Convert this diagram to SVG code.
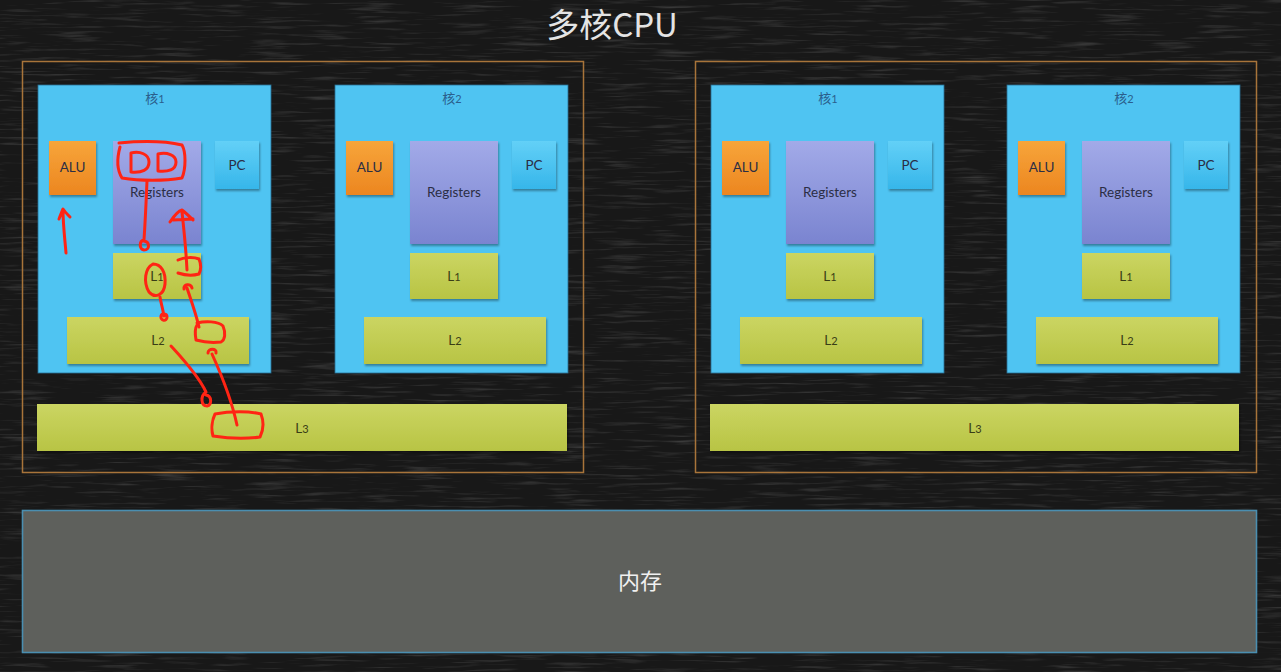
<svg xmlns="http://www.w3.org/2000/svg" width="1281" height="672" viewBox="0 0 1281 672">
<defs>
<filter id="chalk" x="0" y="0" width="100%" height="100%">
<feTurbulence type="fractalNoise" baseFrequency="0.02 0.35" numOctaves="3" seed="4" result="n"/>
<feColorMatrix in="n" type="matrix" values="0 0 0 0 0.5  0 0 0 0 0.5  0 0 0 0 0.5  0 0 0 1.3 -0.68"/>
</filter>
<filter id="sh" x="-10%" y="-10%" width="130%" height="130%">
<feDropShadow dx="1" dy="2" stdDeviation="1.2" flood-color="#000" flood-opacity="0.35"/>
</filter>
<linearGradient id="gAlu" x1="0" y1="0" x2="0" y2="1"><stop offset="0" stop-color="#f7a53a"/><stop offset="1" stop-color="#ec8620"/></linearGradient>
<linearGradient id="gReg" x1="0" y1="0" x2="0" y2="1"><stop offset="0" stop-color="#a2aae8"/><stop offset="1" stop-color="#7a84d0"/></linearGradient>
<linearGradient id="gPc" x1="0" y1="0" x2="0" y2="1"><stop offset="0" stop-color="#63d0f7"/><stop offset="1" stop-color="#36b6ea"/></linearGradient>
<linearGradient id="gL" x1="0" y1="0" x2="0" y2="1"><stop offset="0" stop-color="#cbd562"/><stop offset="1" stop-color="#b8c444"/></linearGradient>
<style>
.cpu{fill:none;stroke:#a8743a;stroke-width:1.5}
.core{fill:#4fc4f2;stroke:#2a6f93;stroke-width:0.8}
.alu{fill:url(#gAlu);filter:url(#sh)}
.reg{fill:url(#gReg);filter:url(#sh)}
.pc{fill:url(#gPc);filter:url(#sh)}
.l{fill:url(#gL);filter:url(#sh)}
.t{font-family:Lato,"Open Sans","Noto Sans CJK SC",sans-serif;font-size:13.5px;text-anchor:middle}
.tc{fill:#2b5f8c;font-family:"Noto Sans CJK SC",Lato,sans-serif;font-size:13px;text-anchor:middle}
.dk{fill:#2b2e45}
.ly{fill:#3a3d16}
.red{fill:none;stroke:#ff2414;stroke-width:3;stroke-linecap:round;stroke-linejoin:round}
</style>
</defs>
<rect x="0" y="0" width="1281" height="672" fill="#181818"/>
<rect x="0" y="0" width="1281" height="672" filter="url(#chalk)" opacity="0.4"/>

<text x="612" y="37" font-family="'Noto Sans CJK SC',sans-serif" font-size="33" fill="#e4e4e4" text-anchor="middle">多核CPU</text>

<g id="cpu-left">
<rect class="cpu" x="22.5" y="61.5" width="561" height="411"/>
</g>
<g id="cpu-right">
<rect class="cpu" x="695.5" y="61.5" width="561" height="411"/>
</g>

<g id="left-core1">
<rect class="core" x="38" y="85" width="233" height="288"/>
<text class="tc" x="155" y="103">核<tspan font-family="Lato,sans-serif" font-size="11">1</tspan></text>
<rect class="alu" x="49" y="141" width="47" height="54"/><text class="t dk" x="72.5" y="172">ALU</text>
<rect class="reg" x="113" y="141" width="88" height="103"/><text class="t dk" x="157" y="197">Registers</text>
<rect class="pc" x="215" y="141" width="44" height="48"/><text class="t dk" x="237" y="170">PC</text>
<rect class="l" x="113" y="253" width="88" height="46"/><text class="t ly" x="157" y="281">L<tspan font-size="11">1</tspan></text>
<rect class="l" x="67" y="317" width="182" height="47"/><text class="t ly" x="158" y="345">L<tspan font-size="11">2</tspan></text>
</g>
<g id="left-core2">
<rect class="core" x="335" y="85" width="233" height="288"/>
<text class="tc" x="452" y="103">核<tspan font-family="Lato,sans-serif" font-size="11">2</tspan></text>
<rect class="alu" x="346" y="141" width="47" height="54"/><text class="t dk" x="369.5" y="172">ALU</text>
<rect class="reg" x="410" y="141" width="88" height="103"/><text class="t dk" x="454" y="197">Registers</text>
<rect class="pc" x="512" y="141" width="44" height="48"/><text class="t dk" x="534" y="170">PC</text>
<rect class="l" x="410" y="253" width="88" height="46"/><text class="t ly" x="454" y="281">L<tspan font-size="11">1</tspan></text>
<rect class="l" x="364" y="317" width="182" height="47"/><text class="t ly" x="455" y="345">L<tspan font-size="11">2</tspan></text>
</g>
<g id="left-l3">
<rect class="l" x="37" y="404" width="530" height="47"/><text class="t ly" x="302" y="433">L<tspan font-size="11">3</tspan></text>
</g>

<g id="right-core1">
<rect class="core" x="711" y="85" width="233" height="288"/>
<text class="tc" x="828" y="103">核<tspan font-family="Lato,sans-serif" font-size="11">1</tspan></text>
<rect class="alu" x="722" y="141" width="47" height="54"/><text class="t dk" x="745.5" y="172">ALU</text>
<rect class="reg" x="786" y="141" width="88" height="103"/><text class="t dk" x="830" y="197">Registers</text>
<rect class="pc" x="888" y="141" width="44" height="48"/><text class="t dk" x="910" y="170">PC</text>
<rect class="l" x="786" y="253" width="88" height="46"/><text class="t ly" x="830" y="281">L<tspan font-size="11">1</tspan></text>
<rect class="l" x="740" y="317" width="182" height="47"/><text class="t ly" x="831" y="345">L<tspan font-size="11">2</tspan></text>
</g>
<g id="right-core2">
<rect class="core" x="1007" y="85" width="233" height="288"/>
<text class="tc" x="1124" y="103">核<tspan font-family="Lato,sans-serif" font-size="11">2</tspan></text>
<rect class="alu" x="1018" y="141" width="47" height="54"/><text class="t dk" x="1041.5" y="172">ALU</text>
<rect class="reg" x="1082" y="141" width="88" height="103"/><text class="t dk" x="1126" y="197">Registers</text>
<rect class="pc" x="1184" y="141" width="44" height="48"/><text class="t dk" x="1206" y="170">PC</text>
<rect class="l" x="1082" y="253" width="88" height="46"/><text class="t ly" x="1126" y="281">L<tspan font-size="11">1</tspan></text>
<rect class="l" x="1036" y="317" width="182" height="47"/><text class="t ly" x="1127" y="345">L<tspan font-size="11">2</tspan></text>
</g>
<g id="right-l3">
<rect class="l" x="710" y="404" width="529" height="47"/><text class="t ly" x="975" y="433">L<tspan font-size="11">3</tspan></text>
</g>

<g id="memory">
<rect x="22.5" y="510.5" width="1234" height="142" fill="#5e605c" stroke="#4a8eb0" stroke-width="1.6"/>
<text x="640" y="589" font-family="'Noto Sans CJK SC',sans-serif" font-size="22" fill="#f0f0f0" text-anchor="middle">内存</text>
</g>

<g id="annotations">
<path class="red" d="M66 253 C65 240 63 225 63 210 M59 219 C61 214 62 211 63 209 C65 212 68 215 70 217"/>
<path class="red" d="M120 147 C117 158 117 170 122 178 C140 181 165 181 182 178 C186 168 186 152 182 145 C165 141 140 141 119 143"/>
<path class="red" d="M131 172 L131 153 C140 151 149 154 149 162 C149 170 142 173 131 172 Z"/>
<path class="red" d="M158 171 L158 154 C167 152 176 155 176 162 C176 170 168 172 158 171 Z"/>
<path class="red" d="M147 181 C146 205 145 225 144 240 M144 240 C139 241 139 249 144 250 C150 250 150 242 144 241"/>
<path class="red" d="M187 270 C186 250 184 230 182 212 M170 222 C174 216 178 211 182 210 C186 213 190 217 193 220 M173 220 L193 219"/>
<path class="red" d="M178 260 C184 257 194 257 199 259 C201 264 201 270 199 274 C192 276 184 275 178 273"/>
<path class="red" d="M153 264 C145 268 143 282 149 292 C155 299 164 295 165 284 C166 272 161 264 153 264 Z"/>
<path class="red" d="M160 297 C161 303 163 310 164 316 M161 316 C160 321 167 322 167 317 C167 313 162 313 161 316"/>
<path class="red" d="M199 327 C196 314 191 300 187 288 M184 289 C183 284 191 283 192 288"/>
<path class="red" d="M197 323 C205 321 218 321 223 326 C226 333 225 340 221 342 C212 343 203 342 196 340 C195 334 195 328 197 325"/>
<path class="red" d="M171 346 C182 358 198 375 206 392 M206 392 C200 396 201 406 207 406 C212 405 212 396 206 395"/>
<path class="red" d="M237 425 C232 402 222 376 212 354 M208 353 C208 348 217 348 216 353"/>
<path class="red" d="M215 414 C230 411 250 411 261 414 C264 422 263 431 260 437 C245 439 226 438 213 436 C211 429 212 420 215 414"/>
</g>
</svg>
